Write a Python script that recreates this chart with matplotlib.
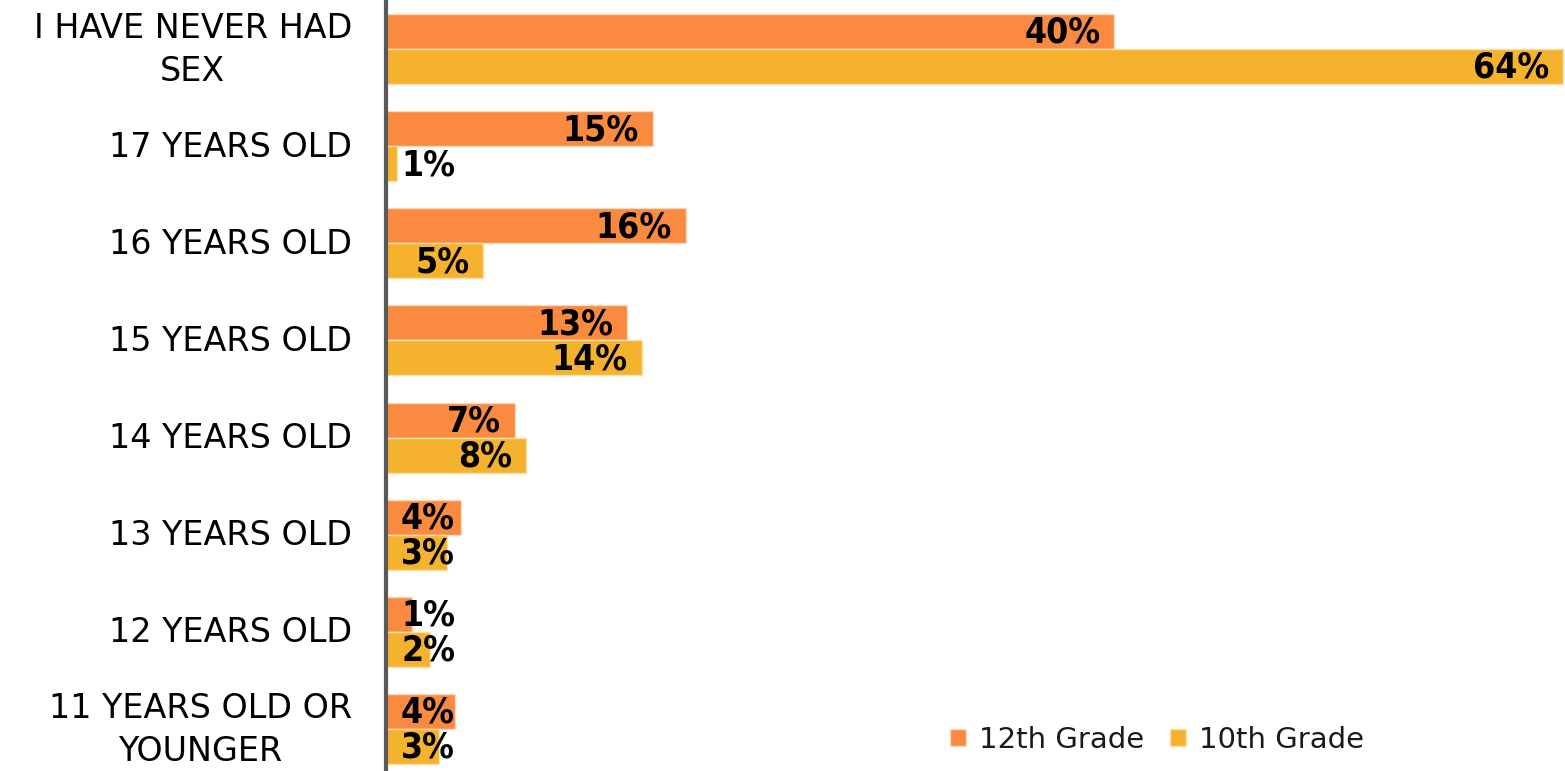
import matplotlib
matplotlib.use("Agg")
import matplotlib.pyplot as plt
from matplotlib.patches import Patch

categories = ["I HAVE NEVER HAD\nSEX", "17 YEARS OLD", "16 YEARS OLD", "15 YEARS OLD",
              "14 YEARS OLD", "13 YEARS OLD", "12 YEARS OLD", "11 YEARS OLD OR\nYOUNGER"]
grade12 = [39.6, 14.5, 16.3, 13.1, 7.0, 4.1, 1.4, 3.75]
grade10 = [64.0, 0.6, 5.3, 13.9, 7.6, 3.3, 2.4, 2.9]
labels12 = ["40%", "15%", "16%", "13%", "7%", "4%", "1%", "4%"]
labels10 = ["64%", "1%", "5%", "14%", "8%", "3%", "2%", "3%"]
series_names = ["12th Grade", "10th Grade"]

c12 = "#F98A3F"
c10 = "#F5B22F"

W, H = 1565, 771
fig = plt.figure(figsize=(W / 100, H / 100), dpi=100)
ax = fig.add_axes([386 / W, 0, 1 - 386 / W, 1])

pitch = 97.14
top_center = 49
ymin = -top_center / pitch
ymax = (H - top_center) / pitch
bh = 0.36
xmax = 64.0 * (W - 386) / (1563 - 386)
ax.set_xlim(0, xmax)
ax.set_ylim(ymax, ymin)

px_per_unit = (1563 - 386) / 64.0
pad = 14 / px_per_unit
min_right = 69 / px_per_unit

for i, (a, b) in enumerate(zip(grade12, grade10)):
    ax.barh(i - bh / 2, a, height=bh, color=c12, edgecolor="#FDD9BF", linewidth=1)
    ax.barh(i + bh / 2, b, height=bh, color=c10, edgecolor="#FBE0A8", linewidth=1)
    for val, lab, y in ((a, labels12[i], i - bh / 2), (b, labels10[i], i + bh / 2)):
        x = max(val - pad, min_right)
        ax.text(x, y + 0.015, lab, ha="right", va="center", fontsize=25.5,
                fontweight="bold", family="DejaVu Sans", fontstretch="condensed",
                color="black")

for i, cat in enumerate(categories):
    ax.text(-34 / px_per_unit, i + 0.01, cat, ha="right", va="center", fontsize=24,
            family="DejaVu Sans", color="black", multialignment="center",
            linespacing=1.4)

ax.set_yticks([])
ax.set_xticks([])
for s in ["top", "right", "bottom"]:
    ax.spines[s].set_visible(False)
ax.spines["left"].set_color("#595959")
ax.spines["left"].set_linewidth(3)

handles = [Patch(facecolor=c12, edgecolor="#FDD9BF"), Patch(facecolor=c10, edgecolor="#FBE0A8")]
fig.legend(handles, series_names, loc="center", bbox_to_anchor=(1157 / W, 1 - 740 / H),
           ncol=2, frameon=False, fontsize=21, handlelength=0.55, handleheight=0.55,
           handletextpad=0.45, columnspacing=0.9, labelcolor="#1a1a1a")

fig.savefig("out.png", dpi=100)
